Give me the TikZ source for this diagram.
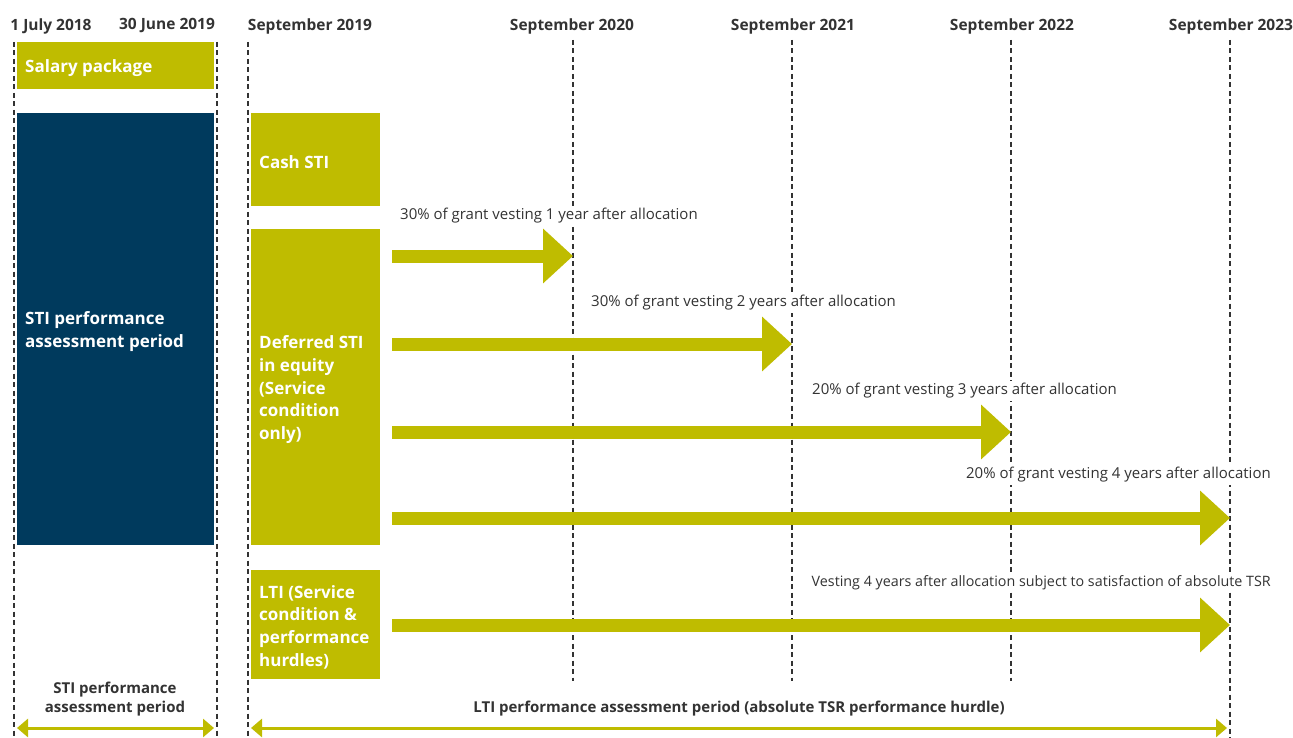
\documentclass[tikz,border=0pt]{standalone}
\usepackage{fontspec}
\setmainfont{Open Sans}
\usetikzlibrary{arrows.meta}
\definecolor{kolive}{RGB}{191,188,0}
\definecolor{knavy}{RGB}{0,58,93}
\definecolor{dgrey}{RGB}{51,51,51}
\begin{document}
\begin{tikzpicture}[x=1pt,y=-1pt,
  vline/.style={draw=dgrey, line width=1.3pt, dash pattern=on 5pt off 3.5pt},
  hdr/.style={font=\bfseries\fontsize{15.5}{17}\selectfont, text=dgrey, inner sep=1pt},
  lbl/.style={font=\fontsize{15}{17}\selectfont, text=dgrey, fill=white, inner sep=2pt},
  btxt/.style={font=\bfseries\fontsize{15}{19}\selectfont, text=dgrey, align=center, inner sep=1pt},
  obox/.style={fill=kolive, anchor=north west, inner sep=0pt},
  otxt/.style={text=white, font=\bfseries\fontsize{17}{22.7}\selectfont, align=left, anchor=west, inner sep=0pt, inner xsep=8pt, yshift=-2.5pt},
  fat/.style={draw=kolive, line width=13pt, -{Triangle[length=30pt,width=53pt]}},
  thinarr/.style={draw=kolive, line width=3pt, {Triangle[length=11pt,width=18pt]}-{Triangle[length=11pt,width=18pt]}}
]
\useasboundingbox (0,0) rectangle (1293,738);
\fill[white] (0,0) rectangle (1293,738);

% vertical dashed lines
\coordinate (v0t) at (14,42);   \coordinate (v0b) at (14,738);
\coordinate (v1t) at (217,42);  \coordinate (v1b) at (217,738);
\coordinate (v2t) at (248,42);  \coordinate (v2b) at (248,738);
\coordinate (v3t) at (573,40);  \coordinate (v3b) at (573,681);
\coordinate (v4t) at (792,40);  \coordinate (v4b) at (792,681);
\coordinate (v5t) at (1011,40); \coordinate (v5b) at (1011,681);
\coordinate (v6t) at (1230,40); \coordinate (v6b) at (1230,738);
\foreach \i in {0,...,6} {\draw[vline] (v\i t) -- (v\i b);}

% headers
\node[hdr] (h0) at (51,26) {1 July 2018};
\node[hdr] (h1) at (167,26) {30 June 2019};
\node[hdr] (h2) at (310,26) {September 2019};
\node[hdr] (h3) at (572,26) {September 2020};
\node[hdr] (h4) at (793,26) {September 2021};
\node[hdr] (h5) at (1012,26) {September 2022};
\node[hdr] (h6) at (1231,26) {September 2023};

% boxes
\node[obox, minimum width=197, minimum height=47] (salary) at (17,42) {};
\node[obox, fill=knavy, minimum width=197, minimum height=432] (sti) at (17,113) {};
\node[obox, minimum width=129, minimum height=93] (cash) at (251,113) {};
\node[obox, minimum width=129, minimum height=316] (def) at (251,229) {};
\node[obox, minimum width=129, minimum height=109] (lti) at (251,570) {};

\node[otxt] (tsalary) at (salary.west) {Salary package};
\node[otxt] (tsti) at (sti.west) {STI performance\\assessment period};
\node[otxt] (tcash) at (cash.west) {Cash STI};
\node[otxt] (tdef) at (def.west) {Deferred STI\\in equity\\(Service\\condition\\only)};
\node[otxt] (tlti) at (lti.west) {LTI (Service\\condition \&\\performance\\hurdles)};

% fat arrows
\coordinate (a1) at (392,256);
\coordinate (a2) at (392,344);
\coordinate (a3) at (392,432);
\coordinate (a4) at (392,518);
\coordinate (a5) at (392,625);
\draw[fat] (a1) -- (a1 -| v3t);
\draw[fat] (a2) -- (a2 -| v4t);
\draw[fat] (a3) -- (a3 -| v5t);
\draw[fat] (a4) -- (a4 -| v6t);
\draw[fat] (a5) -- (a5 -| v6t);

% labels
\node[lbl, anchor=west] (l1) at (398,216) {30\% of grant vesting 1 year after allocation};
\node[lbl, anchor=west] (l2) at (589,303) {30\% of grant vesting 2 years after allocation};
\node[lbl, anchor=west] (l3) at (810,391) {20\% of grant vesting 3 years after allocation};
\node[lbl, anchor=east] (l4) at (1273,475) {20\% of grant vesting 4 years after allocation};
\node[lbl, anchor=east, font=\fontsize{14.3}{17}\selectfont] (l5) at (1273,583) {Vesting 4 years after allocation subject to satisfaction of absolute TSR};

% bottom
\node[btxt] (bsti) at (115,699.5) {STI performance\\assessment period};
\node[btxt] (blti) at (739,709) {LTI performance assessment period (absolute TSR performance hurdle)};
\coordinate (b1l) at (17,728);  \coordinate (b1r) at (214,728);
\coordinate (b2l) at (251,728); \coordinate (b2r) at (1227,728);
\draw[thinarr] (b1l) -- (b1r);
\draw[thinarr] (b2l) -- (b2r);
\end{tikzpicture}
\end{document}
